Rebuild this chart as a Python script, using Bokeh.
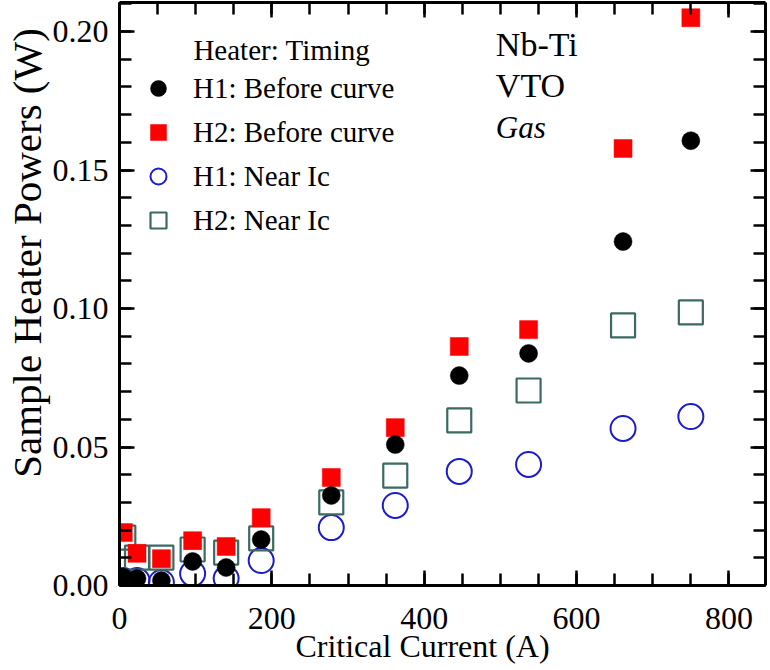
from bokeh.plotting import figure
from bokeh.models import (LinearAxis, SingleIntervalTicker, PrintfTickFormatter,
                          Legend, LegendItem, Label, Range1d, ColumnDataSource)
from bokeh.embed import file_html
from bokeh.resources import INLINE

# ---- data ----
current = [5, 23, 55, 96, 140, 186, 278, 362, 446, 537, 661, 750]
h1_before = [0.0030, 0.0025, 0.0018, 0.0087, 0.0065, 0.0166, 0.0325, 0.0509, 0.0758, 0.0838, 0.1242, 0.1606]
h2_before = [0.0191, 0.0116, 0.0097, 0.0162, 0.0141, 0.0245, 0.0390, 0.0570, 0.0863, 0.0924, 0.1578, 0.2050]
h1_near = [0.0018, 0.0018, 0.0011, 0.0043, 0.0025, 0.0090, 0.0209, 0.0289, 0.0412, 0.0437, 0.0567, 0.0610]
h2_near = [0.0173, 0.0101, 0.0101, 0.0130, 0.0119, 0.0170, 0.0300, 0.0397, 0.0596, 0.0704, 0.0939, 0.0986]

series_labels = ["H1: Before curve", "H2: Before curve", "H1: Near Ic", "H2: Near Ic"]
legend_title = "Heater: Timing"
notes = ["Nb-Ti", "VTO", "Gas"]
x_title = "Critical Current (A)"
y_title = "Sample Heater Powers (W)"

FONT = "Liberation Serif"
NBSP = "\u00a0"

p = figure(width=770, height=670, output_backend="svg", toolbar_location=None,
           x_range=Range1d(0, 848), y_range=Range1d(0, 0.2105),
           min_border_left=118, min_border_right=5, min_border_top=2, min_border_bottom=85,
           # non-breaking padding shifts the centred titles like in the reference
           x_axis_label=x_title + NBSP * 5, y_axis_label=NBSP * 8 + y_title)
p.xgrid.visible = False
p.ygrid.visible = False
p.outline_line_color = None
p.background_fill_color = "white"

src = ColumnDataSource(dict(x=current, a=h1_before, b=h2_before, c=h1_near, d=h2_near))

r_c = p.scatter("x", "c", source=src, marker="circle", size=25, fill_color=None,
                line_color="#1c1ccc", line_width=2)
r_d = p.scatter("x", "d", source=src, marker="square", size=24, fill_color=None,
                line_color="#3b6a62", line_width=2.2)
r_b = p.scatter("x", "b", source=src, marker="square", size=18, fill_color="#ff0000",
                line_color="#ff0000", line_width=0.5)
r_a = p.scatter("x", "a", source=src, marker="circle", size=18, fill_color="black",
                line_color="black", line_width=0.5)


def style_axis(ax, show_labels):
    ax.axis_line_width = 3
    ax.axis_line_color = "black"
    ax.major_tick_in = 15
    ax.major_tick_out = 0
    ax.minor_tick_in = 12
    ax.minor_tick_out = 0
    ax.major_tick_line_width = 2.5
    ax.minor_tick_line_width = 2.5
    ax.major_tick_line_color = "black"
    ax.minor_tick_line_color = "black"
    if show_labels:
        ax.major_label_text_font = FONT
        ax.major_label_text_font_size = "32px"
        ax.major_label_text_color = "black"
        ax.axis_label_text_font = FONT
        ax.axis_label_text_font_style = "normal"
        ax.axis_label_text_color = "black"
    else:
        ax.major_label_text_color = None
        ax.major_label_text_font_size = "1px"
        ax.major_label_standoff = 0


xa = p.xaxis[0]
xa.ticker = SingleIntervalTicker(interval=200, num_minor_ticks=4)
style_axis(xa, True)
xa.major_label_standoff = 22
xa.axis_label_standoff = -4
xa.axis_label_text_font_size = "32px"

ya = p.yaxis[0]
ya.ticker = SingleIntervalTicker(interval=0.05, num_minor_ticks=5)
ya.formatter = PrintfTickFormatter(format="%.2f")
style_axis(ya, True)
ya.major_label_standoff = 11
ya.axis_label_standoff = 0
ya.axis_label_text_font_size = "41px"

top = LinearAxis(ticker=SingleIntervalTicker(interval=200, num_minor_ticks=4))
style_axis(top, False)
p.add_layout(top, "above")
right = LinearAxis(ticker=SingleIntervalTicker(interval=0.05, num_minor_ticks=5))
style_axis(right, False)
p.add_layout(right, "right")

legend = Legend(items=[LegendItem(label=series_labels[0], renderers=[r_a]),
                       LegendItem(label=series_labels[1], renderers=[r_b]),
                       LegendItem(label=series_labels[2], renderers=[r_c]),
                       LegendItem(label=series_labels[3], renderers=[r_d])],
                location=(19, 345), orientation="vertical",
                glyph_width=40, glyph_height=40, label_height=40, spacing=4,
                padding=0, margin=0, label_standoff=15,
                label_text_font=FONT, label_text_font_size="29px",
                label_text_baseline="middle", label_text_color="black",
                background_fill_alpha=0, border_line_color=None)
p.add_layout(legend)

p.add_layout(Label(x=97, y=0.1935, text=legend_title, text_font=FONT,
                   text_font_size="29px", text_color="black", text_baseline="alphabetic"))
p.add_layout(Label(x=494, y=0.1955, text=notes[0], text_font=FONT,
                   text_font_size="34px", text_color="black", text_baseline="alphabetic"))
p.add_layout(Label(x=494, y=0.1804, text=notes[1], text_font=FONT,
                   text_font_size="34px", text_color="black", text_baseline="alphabetic"))
p.add_layout(Label(x=494, y=0.1655, text=notes[2], text_font=FONT,
                   text_font_size="31px", text_font_style="italic", text_color="black",
                   text_baseline="alphabetic"))

open("out.html", "w").write(file_html(p, INLINE))
